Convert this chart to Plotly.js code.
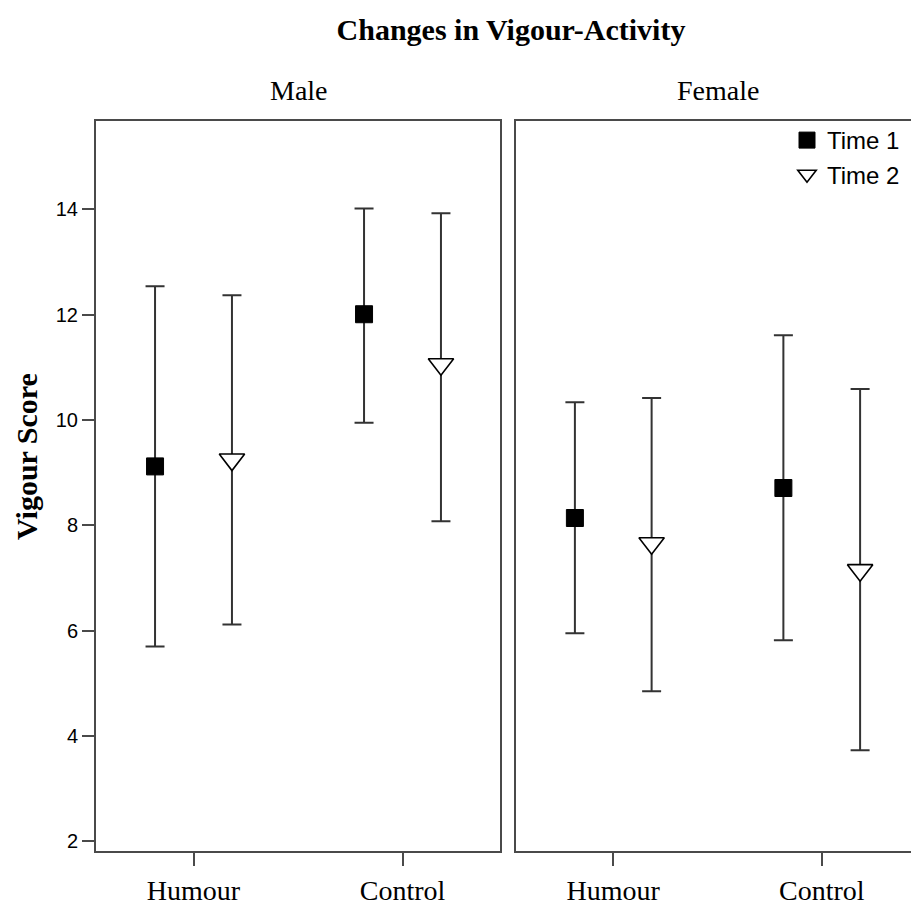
<!DOCTYPE html>
<html>
<head>
<meta charset="utf-8">
<script src="https://cdn.plot.ly/plotly-3.0.1.min.js"></script>
<style>
  html, body { margin: 0; padding: 0; overflow: hidden; background: #fff; }
  #chart { width: 920px; height: 905px; }
</style>
</head>
<body>
<div id="chart"></div>
<script>
// ---- data ----
const categories = ["Humour", "Control"];
const seriesNames = ["Time 1", "Time 2"];
const panelNames = ["Male", "Female"];
const yTitle = "Vigour Score";

const maleT1Mean  = [9.12, 12.01];
const maleT1Upper = [12.54, 14.02];
const maleT1Lower = [5.70, 9.95];

const maleT2Mean  = [9.25, 11.06];
const maleT2Upper = [12.37, 13.93];
const maleT2Lower = [6.12, 8.08];

const femaleT1Mean  = [8.14, 8.71];
const femaleT1Upper = [10.34, 11.61];
const femaleT1Lower = [5.95, 5.82];

const femaleT2Mean  = [7.66, 7.15];
const femaleT2Upper = [10.42, 10.59];
const femaleT2Lower = [4.85, 3.73];

const yTicks = [2, 4, 6, 8, 10, 12, 14];

// ---- styling / layout ----
const W = 920, H = 905;
const OFFSET = 0.184;
const lineCol = '#4a4a4a';
const errCol = '#333333';

function mkTrace(mean, upper, lower, series, xa, ya, showleg) {
  const isT1 = series === 0;
  return {
    type: 'scatter', mode: 'markers',
    name: seriesNames[series],
    x: categories.map((c, i) => i + (isT1 ? -OFFSET : OFFSET)),
    y: mean,
    xaxis: xa, yaxis: ya,
    showlegend: showleg,
    legendgroup: seriesNames[series],
    marker: isT1
      ? { symbol: 'square', size: 17, color: '#000000', line: { color: '#000000', width: 1 } }
      : { symbol: 'triangle-down', size: 22, color: '#ffffff', line: { color: '#000000', width: 1.6 } },
    error_y: {
      type: 'data', symmetric: false,
      array: upper.map((u, i) => u - mean[i]),
      arrayminus: lower.map((l, i) => mean[i] - l),
      color: errCol, thickness: 2, width: 9.5
    },
    hoverinfo: 'x+y'
  };
}

const traces = [
  mkTrace(maleT1Mean, maleT1Upper, maleT1Lower, 0, 'x', 'y', true),
  mkTrace(maleT2Mean, maleT2Upper, maleT2Lower, 1, 'x', 'y', true),
  mkTrace(femaleT1Mean, femaleT1Upper, femaleT1Lower, 0, 'x2', 'y2', false),
  mkTrace(femaleT2Mean, femaleT2Upper, femaleT2Lower, 1, 'x2', 'y2', false)
];

const px = v => v / W;
const py = v => 1 - v / H;

const xRange = [-0.4665, 1.4665];
const yRange = [1.816, 15.68];

const serif = 'Liberation Serif, Times New Roman, serif';
const sans = 'Liberation Sans, Arial, sans-serif';

const xCommon = {
  range: xRange, tickvals: categories.map((c, i) => i), ticktext: categories,
  showline: true, mirror: true, linecolor: lineCol, linewidth: 2,
  ticks: 'outside', ticklen: 13, tickwidth: 2, tickcolor: lineCol,
  showgrid: false, zeroline: false,
  tickfont: { family: serif, size: 28, color: '#000' }
};
const yCommon = {
  range: yRange, tickvals: yTicks,
  showline: true, mirror: true, linecolor: lineCol, linewidth: 2,
  showgrid: false, zeroline: false
};

const layout = {
  width: W, height: H,
  margin: { l: 0, r: 0, t: 0, b: 0 },
  paper_bgcolor: '#ffffff', plot_bgcolor: '#ffffff',
  title: {
    text: '<b>Changes in Vigour-Activity</b>',
    x: px(511), xanchor: 'center', y: py(29), yanchor: 'middle',
    font: { family: serif, size: 30, color: '#000' }
  },
  xaxis: Object.assign({}, xCommon, { domain: [px(96), px(500)], anchor: 'y' }),
  xaxis2: Object.assign({}, xCommon, { domain: [px(516), px(919)], anchor: 'y2' }),
  yaxis: Object.assign({}, yCommon, {
    domain: [py(851), py(121)], anchor: 'x',
    ticks: 'outside', ticklen: 12, tickwidth: 2, tickcolor: lineCol,
    tickfont: { family: sans, size: 20, color: '#000' }
  }),
  yaxis2: Object.assign({}, yCommon, {
    domain: [py(851), py(121)], anchor: 'x2', matches: 'y',
    ticks: '', showticklabels: false
  }),
  legend: {
    x: px(787), xanchor: 'left', y: py(118), yanchor: 'top',
    bgcolor: 'rgba(0,0,0,0)', borderwidth: 0,
    font: { family: sans, size: 24, color: '#000' },
    tracegroupgap: 0
  },
  annotations: [
    { text: panelNames[0], xref: 'paper', yref: 'paper', x: px(299), y: py(91),
      xanchor: 'center', yanchor: 'middle', showarrow: false,
      font: { family: serif, size: 28, color: '#000' } },
    { text: panelNames[1], xref: 'paper', yref: 'paper', x: px(717.5), y: py(91),
      xanchor: 'center', yanchor: 'middle', showarrow: false,
      font: { family: serif, size: 28, color: '#000' } },
    { text: '<b>' + yTitle + '</b>', xref: 'paper', yref: 'paper', x: px(26), y: py(457),
      xanchor: 'center', yanchor: 'middle', showarrow: false, textangle: -90,
      font: { family: serif, size: 30, color: '#000' } }
  ],
  showlegend: true
};

Plotly.newPlot('chart', traces, layout, { displayModeBar: false, staticPlot: true });
</script>
</body>
</html>
